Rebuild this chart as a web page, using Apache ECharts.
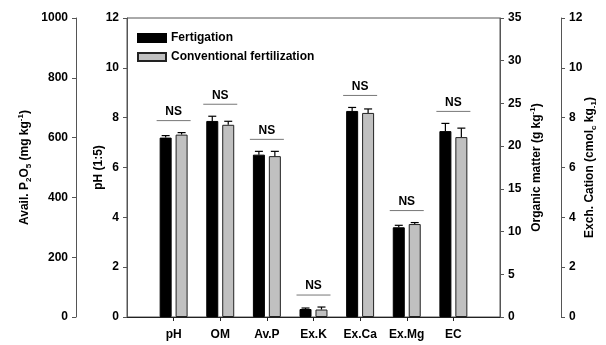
<!DOCTYPE html>
<html>
<head>
<meta charset="utf-8">
<script src="https://cdn.jsdelivr.net/npm/echarts@6/dist/echarts.min.js"></script>
<style>html,body{margin:0;padding:0;background:#fff}#c{width:606px;height:345px}</style>
</head>
<body>
<div id="c"></div>
<script>
// ---- data ----
const categories = ['pH', 'OM', 'Av.P', 'Ex.K', 'Ex.Ca', 'Ex.Mg', 'EC'];
// which axis each category is read on
const categoryUnit = ['ph', 'om', 'p', 'ex', 'ex', 'ex', 'ph'];
const fertigation = [7.20, 22.95, 543, 0.32, 8.27, 3.60, 7.46];
const fertigationErr = [0.08, 0.55, 11, 0.04, 0.14, 0.08, 0.31];
const conventional = [7.32, 22.50, 538, 0.30, 8.19, 3.73, 7.22];
const conventionalErr = [0.08, 0.41, 16, 0.10, 0.16, 0.06, 0.36];
const significance = ['NS', 'NS', 'NS', 'NS', 'NS', 'NS', 'NS'];
const seriesNames = ['Fertigation', 'Conventional fertilization'];
const phTicks = [0, 12, 2];
const pTicks = [0, 1000, 200];
const omTicks = [0, 35, 5];
const exTicks = [0, 12, 2];

const axisMax = { ph: phTicks[1], p: pTicks[1], om: omTicks[1], ex: exTicks[1] };
// convert native units to the pH axis scale (bars are drawn on the pH axis)
function toPh(v, i) { return v * phTicks[1] / axisMax[categoryUnit[i]]; }

const xData = [''].concat(categories, ['']);
function pad(arr) { return [null].concat(arr, [null]); }
const fertPh = fertigation.map(toPh);
const convPh = conventional.map(toPh);
const fertErrPh = fertigationErr.map(toPh);
const convErrPh = conventionalErr.map(toPh);

const FONT = 'Arial, "Liberation Sans", sans-serif';
const LINE = '#555';
const BAR_W = 12, BAR_GAP = '33%';

const rich = {
  t: { fontSize: 12, fontWeight: 'bold', fontFamily: FONT, color: '#000', lineHeight: 16 },
  sup: { fontSize: 8, fontWeight: 'bold', fontFamily: FONT, color: '#000', lineHeight: 9, verticalAlign: 'top' },
  sub: { fontSize: 8, fontWeight: 'bold', fontFamily: FONT, color: '#000', lineHeight: 9, verticalAlign: 'bottom' }
};

function yAxisBase(ticks, position, offset, name, nameGap) {
  return {
    type: 'value', position: position, offset: offset,
    min: ticks[0], max: ticks[1], interval: ticks[2],
    name: name, nameLocation: 'middle', nameRotate: 90, nameGap: nameGap,
    nameMoveOverlap: false,
    nameTextStyle: { rich: rich },
    axisLine: { show: true, lineStyle: { color: LINE, width: 1 } },
    axisTick: { show: true, length: 4, inside: false, lineStyle: { color: LINE } },
    axisLabel: { fontSize: 12, fontWeight: 'bold', fontFamily: FONT, color: '#000', margin: 8,
      formatter: function (v) { return String(v); } },
    splitLine: { show: false }
  };
}

const errData = [];
const nsData = [];
for (let i = 0; i < categories.length; i++) {
  errData.push([i + 1, fertPh[i], fertErrPh[i], 0]);
  errData.push([i + 1, convPh[i], convErrPh[i], 1]);
  nsData.push([i + 1, Math.max(fertPh[i] + fertErrPh[i], convPh[i] + convErrPh[i]), i]);
}

const chart = echarts.init(document.getElementById('c'));
chart.setOption({
  animation: false,
  backgroundColor: '#fff',
  grid: { left: 127, right: 106, top: 18, bottom: 28, show: true, borderColor: LINE, borderWidth: 1,
    containLabel: false, outerBoundsMode: 'none' },
  legend: {
    orient: 'vertical', left: 137, top: 32, padding: 0, itemWidth: 28, itemHeight: 8, itemGap: 7,
    icon: 'rect',
    textStyle: { fontSize: 12, fontWeight: 'bold', fontFamily: FONT, color: '#000' },
    data: seriesNames
  },
  xAxis: {
    type: 'category', data: xData, boundaryGap: false,
    axisLine: { lineStyle: { color: '#222' } },
    axisTick: { length: 4, interval: function (i) { return i > 0 && i < xData.length - 1; }, lineStyle: { color: '#222' } },
    axisLabel: { fontSize: 12, fontWeight: 'bold', fontFamily: FONT, color: '#000', margin: 12, interval: 0 },
    splitLine: { show: false }
  },
  yAxis: [
    yAxisBase(phTicks, 'left', 0, '{t|pH (1:5)}', 20),
    yAxisBase(pTicks, 'left', 51, '{t|Avail. P}{sub|2}{t|O}{sub|5}{t| (mg kg}{sup|-1}{t|)}', 43),
    yAxisBase(omTicks, 'right', 0, '{t|Organic matter (g kg}{sup|-1}{t|)}', 29),
    yAxisBase(exTicks, 'right', 61, '{t|Exch. Cation (cmol}{sub|c}{t| kg}{sub|-1}{t|)}', 21)
  ],
  series: [
    {
      name: seriesNames[0], type: 'bar', yAxisIndex: 0, data: pad(fertPh),
      barWidth: BAR_W, barGap: BAR_GAP,
      itemStyle: { color: '#000', borderColor: '#000', borderWidth: 1 }
    },
    {
      name: seriesNames[1], type: 'bar', yAxisIndex: 0, data: pad(convPh),
      barWidth: BAR_W, barGap: BAR_GAP,
      itemStyle: { color: '#c0c0c0', borderColor: '#222', borderWidth: 1 }
    },
    {
      type: 'custom', yAxisIndex: 0, data: errData, silent: true, z: 5,
      renderItem: function (params, api) {
        const layout = api.barLayout({ count: 2, barWidth: BAR_W, barGap: BAR_GAP });
        const s = api.value(3);
        const base = api.coord([api.value(0), api.value(1)]);
        const top = api.coord([api.value(0), api.value(1) + api.value(2)]);
        const x = base[0] + layout[s].offsetCenter;
        const style = { stroke: '#000', lineWidth: 1.2 };
        return {
          type: 'group', children: [
            { type: 'line', shape: { x1: x, y1: base[1], x2: x, y2: top[1] }, style: style },
            { type: 'line', shape: { x1: x - 4, y1: top[1], x2: x + 4, y2: top[1] }, style: style }
          ]
        };
      }
    },
    {
      type: 'custom', yAxisIndex: 0, data: nsData, silent: true, z: 5,
      renderItem: function (params, api) {
        const p = api.coord([api.value(0), api.value(1)]);
        const y = p[1] - 12;
        return {
          type: 'group', children: [
            { type: 'line', shape: { x1: p[0] - 17, y1: y, x2: p[0] + 17, y2: y }, style: { stroke: '#777', lineWidth: 1 } },
            { type: 'text', style: { text: significance[api.value(2)], x: p[0], y: y - 3, align: 'center', verticalAlign: 'bottom',
              fontSize: 12, fontWeight: 'bold', fontFamily: FONT, fill: '#000' } }
          ]
        };
      }
    }
  ]
});
</script>
</body>
</html>
